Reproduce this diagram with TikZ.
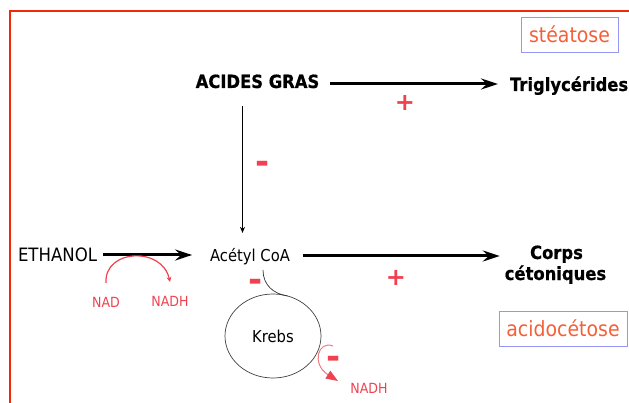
\documentclass[tikz,border=0pt]{standalone}
\usepackage{fontspec}
\setmainfont{DejaVu Sans}
\newfontfamily\nar[FakeStretch=0.9]{DejaVu Sans}
\newfontfamily\narb[FakeStretch=0.9,FakeBold=0.6]{DejaVu Sans Bold}
\usetikzlibrary{arrows.meta,shapes.geometric,calc}
\definecolor{framered}{RGB}{240,40,5}
\definecolor{labred}{RGB}{240,65,80}
\definecolor{orangetxt}{RGB}{245,95,55}
\definecolor{boxblue}{RGB}{150,150,245}
\definecolor{pinkline}{RGB}{240,120,130}
\begin{document}
\begin{tikzpicture}[x=1pt,y=-1pt,
  every node/.style={inner sep=0pt,outer sep=0pt},
  boldtxt/.style={font=\narb\fontsize{18.2}{20}\selectfont},
  regtxt/.style={font=\nar\fontsize{#1}{#1}\selectfont},
  redtxt/.style={text=labred,font=\nar\fontsize{14}{14}\selectfont},
  plussign/.style={text=labred,font=\fontsize{24}{24}\selectfont\bfseries},
  minussign/.style={text=labred,font=\fontsize{34}{34}\selectfont\bfseries},
  diagbox/.style={draw=boxblue,line width=0.8pt,text=orangetxt,font=\nar\fontsize{21}{21}\selectfont},
  bigarrow/.style={line width=3pt,-{Stealth[length=17pt,width=11pt,inset=6pt]}},
  thinarrow/.style={line width=0.8pt,-{Stealth[length=6pt,width=5pt]}},
]
\useasboundingbox (0,0) rectangle (629,403);
% frame
\draw[framered,line width=2.7pt] (10,410) -- (10,11) -- (640,11);

% nodes
\node[boldtxt,anchor=base] (acides) at (257.5,88) {ACIDES GRAS};
\node[boldtxt,anchor=base west] (trig) at (510,91) {Triglycérides};
\node[regtxt=18.4,anchor=base west] (ethanol) at (18,262) {ETHANOL};
\node[regtxt=16.4,anchor=base] (acetyl) at (250,262) {Acétyl CoA};
\node[boldtxt,anchor=base] (corps) at (556.5,259) {Corps};
\node[boldtxt,anchor=base] (ceto) at (555.5,280) {cétoniques};
\node[diagbox,minimum width=97pt,minimum height=35pt] (steat) at (569.5,34.5) {stéatose};
\node[diagbox,minimum width=128pt,minimum height=35pt] (acido) at (563,328.5) {acidocétose};
\node[ellipse,draw=black!75,line width=0.7pt,minimum width=96pt,minimum height=84pt,regtxt=16.4] (krebs) at (273,336) {Krebs};
\node[redtxt] (nad) at (106,302) {NAD};
\node[redtxt] (nadh) at (170,301) {NADH};
\node[redtxt] (nadh2) at (369,388) {NADH};
\node[plussign] (plus1) at (405,103) {+};
\node[plussign] (plus2) at (396,278) {+};
\node[minussign] (min1) at (263,167) {-};
\node[minussign] (min2) at (256,285) {-};
\node[minussign] (min3) at (334,362) {-};

% connectors
\draw[bigarrow] ([xshift=11pt,yshift=4pt]acides.base east) coordinate (s1) -- ($(s1 -| trig.west)+(-12,0)$);
\draw[bigarrow] ([xshift=6pt,yshift=7pt]ethanol.base east) coordinate (s2) -- ($(s2 -| acetyl.west)+(-18,0)$);
\draw[bigarrow] ([xshift=13pt,yshift=6pt]acetyl.base east) coordinate (s3) -- ($(s3 -| ceto.west)+(-5,0)$);
\draw[thinarrow] ([xshift=-15pt,yshift=-18pt]acides.base) coordinate (s4) -- ($(s4 |- acetyl.north)+(0,-16)$);
\draw[black!80,line width=0.7pt] ([xshift=13pt,yshift=-8pt]acetyl.base) .. controls +(0,15) and +(-14,-2) .. (krebs.70);

% red reaction arcs
\coordinate (na) at ([yshift=14pt]nad.north);
\coordinate (nb) at ([yshift=14pt]nadh.north);
\draw[labred,line width=1.2pt,-{Stealth[length=5pt,width=5pt]}] (na) .. controls (104,249) and (162,246) .. (nb);
\coordinate (ka) at (333,346);
\coordinate (kb) at (338,381);
\draw[pinkline,line width=1pt,-{Stealth[length=12pt,width=9pt,inset=0pt,fill=labred,color=labred]}] (ka) .. controls (318,340) and (311,364) .. (kb);
\end{tikzpicture}
\end{document}
